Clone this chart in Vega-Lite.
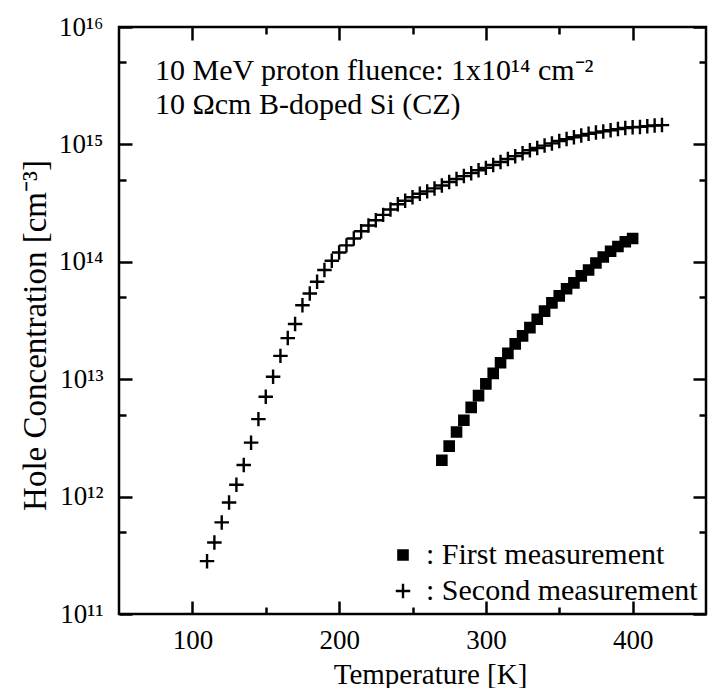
{
  "$schema": "https://vega.github.io/schema/vega-lite/v6.json",
  "width": 587,
  "height": 587,
  "autosize": {"type": "none"},
  "padding": {"left": 119, "top": 27, "right": 2, "bottom": 74},
  "background": "white",
  "config": {
    "view": {"stroke": "black", "strokeWidth": 2.5},
    "axis": {
      "domain": false, "grid": false, "tickWidth": 2.5,
      "labelFont": "Liberation Serif", "labelFontSize": 27, "labelColor": "black",
      "titleFont": "Liberation Serif", "titleColor": "black", "titleFontWeight": "normal"
    },
    "legend": {"labelFont": "Liberation Serif", "labelColor": "black"}
  },
  "datasets": {
    "first": [
      {"T": 270, "p": 2.04e12, "series": "First measurement"},
      {"T": 275, "p": 2.69e12, "series": "First measurement"},
      {"T": 280, "p": 3.55e12, "series": "First measurement"},
      {"T": 285, "p": 4.47e12, "series": "First measurement"},
      {"T": 290, "p": 5.75e12, "series": "First measurement"},
      {"T": 295, "p": 7.24e12, "series": "First measurement"},
      {"T": 300, "p": 9.12e12, "series": "First measurement"},
      {"T": 305, "p": 1.12e13, "series": "First measurement"},
      {"T": 310, "p": 1.38e13, "series": "First measurement"},
      {"T": 315, "p": 1.66e13, "series": "First measurement"},
      {"T": 320, "p": 2.0e13, "series": "First measurement"},
      {"T": 325, "p": 2.34e13, "series": "First measurement"},
      {"T": 330, "p": 2.75e13, "series": "First measurement"},
      {"T": 335, "p": 3.24e13, "series": "First measurement"},
      {"T": 340, "p": 3.8e13, "series": "First measurement"},
      {"T": 345, "p": 4.47e13, "series": "First measurement"},
      {"T": 350, "p": 5.13e13, "series": "First measurement"},
      {"T": 355, "p": 5.89e13, "series": "First measurement"},
      {"T": 360, "p": 6.61e13, "series": "First measurement"},
      {"T": 365, "p": 7.59e13, "series": "First measurement"},
      {"T": 370, "p": 8.51e13, "series": "First measurement"},
      {"T": 375, "p": 9.77e13, "series": "First measurement"},
      {"T": 380, "p": 1.1e14, "series": "First measurement"},
      {"T": 385, "p": 1.23e14, "series": "First measurement"},
      {"T": 390, "p": 1.35e14, "series": "First measurement"},
      {"T": 395, "p": 1.48e14, "series": "First measurement"},
      {"T": 400, "p": 1.58e14, "series": "First measurement"}
    ],
    "second": [
      {"T": 110, "p": 2.82e11, "series": "Second measurement"},
      {"T": 115, "p": 4.07e11, "series": "Second measurement"},
      {"T": 120, "p": 6.03e11, "series": "Second measurement"},
      {"T": 125, "p": 8.91e11, "series": "Second measurement"},
      {"T": 130, "p": 1.26e12, "series": "Second measurement"},
      {"T": 135, "p": 1.86e12, "series": "Second measurement"},
      {"T": 140, "p": 2.88e12, "series": "Second measurement"},
      {"T": 145, "p": 4.57e12, "series": "Second measurement"},
      {"T": 150, "p": 7.08e12, "series": "Second measurement"},
      {"T": 155, "p": 1.05e13, "series": "Second measurement"},
      {"T": 160, "p": 1.58e13, "series": "Second measurement"},
      {"T": 165, "p": 2.24e13, "series": "Second measurement"},
      {"T": 170, "p": 2.95e13, "series": "Second measurement"},
      {"T": 175, "p": 4.27e13, "series": "Second measurement"},
      {"T": 180, "p": 5.37e13, "series": "Second measurement"},
      {"T": 185, "p": 6.76e13, "series": "Second measurement"},
      {"T": 190, "p": 8.51e13, "series": "Second measurement"},
      {"T": 195, "p": 1.02e14, "series": "Second measurement"},
      {"T": 200, "p": 1.2e14, "series": "Second measurement"},
      {"T": 205, "p": 1.38e14, "series": "Second measurement"},
      {"T": 210, "p": 1.58e14, "series": "Second measurement"},
      {"T": 215, "p": 1.82e14, "series": "Second measurement"},
      {"T": 220, "p": 2.04e14, "series": "Second measurement"},
      {"T": 225, "p": 2.26e14, "series": "Second measurement"},
      {"T": 230, "p": 2.51e14, "series": "Second measurement"},
      {"T": 235, "p": 2.79e14, "series": "Second measurement"},
      {"T": 240, "p": 3.09e14, "series": "Second measurement"},
      {"T": 245, "p": 3.31e14, "series": "Second measurement"},
      {"T": 250, "p": 3.55e14, "series": "Second measurement"},
      {"T": 255, "p": 3.8e14, "series": "Second measurement"},
      {"T": 260, "p": 3.98e14, "series": "Second measurement"},
      {"T": 265, "p": 4.22e14, "series": "Second measurement"},
      {"T": 270, "p": 4.47e14, "series": "Second measurement"},
      {"T": 275, "p": 4.79e14, "series": "Second measurement"},
      {"T": 280, "p": 5.07e14, "series": "Second measurement"},
      {"T": 285, "p": 5.37e14, "series": "Second measurement"},
      {"T": 290, "p": 5.69e14, "series": "Second measurement"},
      {"T": 295, "p": 6.03e14, "series": "Second measurement"},
      {"T": 300, "p": 6.31e14, "series": "Second measurement"},
      {"T": 305, "p": 6.68e14, "series": "Second measurement"},
      {"T": 310, "p": 7.08e14, "series": "Second measurement"},
      {"T": 315, "p": 7.5e14, "series": "Second measurement"},
      {"T": 320, "p": 7.94e14, "series": "Second measurement"},
      {"T": 325, "p": 8.41e14, "series": "Second measurement"},
      {"T": 330, "p": 8.91e14, "series": "Second measurement"},
      {"T": 335, "p": 9.33e14, "series": "Second measurement"},
      {"T": 340, "p": 9.77e14, "series": "Second measurement"},
      {"T": 345, "p": 1.02e15, "series": "Second measurement"},
      {"T": 350, "p": 1.07e15, "series": "Second measurement"},
      {"T": 355, "p": 1.11e15, "series": "Second measurement"},
      {"T": 360, "p": 1.15e15, "series": "Second measurement"},
      {"T": 365, "p": 1.19e15, "series": "Second measurement"},
      {"T": 370, "p": 1.23e15, "series": "Second measurement"},
      {"T": 375, "p": 1.26e15, "series": "Second measurement"},
      {"T": 380, "p": 1.29e15, "series": "Second measurement"},
      {"T": 385, "p": 1.32e15, "series": "Second measurement"},
      {"T": 390, "p": 1.35e15, "series": "Second measurement"},
      {"T": 395, "p": 1.38e15, "series": "Second measurement"},
      {"T": 400, "p": 1.4e15, "series": "Second measurement"},
      {"T": 405, "p": 1.41e15, "series": "Second measurement"},
      {"T": 410, "p": 1.43e15, "series": "Second measurement"},
      {"T": 415, "p": 1.45e15, "series": "Second measurement"},
      {"T": 420, "p": 1.46e15, "series": "Second measurement"}
    ]
  },
  "resolve": {"axis": {"x": "independent", "y": "independent"}},
  "layer": [
    {
      "data": {"name": "first"},
      "mark": {"type": "point", "filled": true, "fill": "black", "stroke": "black", "strokeWidth": 2.4, "opacity": 1},
      "encoding": {
        "x": {
          "field": "T", "type": "quantitative",
          "scale": {"domain": [50, 450], "nice": false, "zero": false},
          "axis": {
            "orient": "bottom", "title": "Temperature [K]", "titleFontSize": 29,
            "values": [100, 200, 300, 400], "ticks": true, "tickSize": 13, "tickColor": "transparent",
            "labelPadding": 0, "titleX": 311, "titleY": 69, "titleBaseline": "alphabetic", "titleAlign": "center"
          }
        },
        "y": {
          "field": "p", "type": "quantitative",
          "scale": {"type": "log", "domain": [1e11, 1e16], "nice": false},
          "axis": {
            "orient": "left", "title": "Hole Concentration [cm⁻³]", "titleFontSize": 33,
            "values": [1e11, 1e12, 1e13, 1e14, 1e15, 1e16], "ticks": true, "tickSize": 13, "tickColor": "transparent",
            "labelExpr": "'10' + ['¹¹','¹²','¹³','¹⁴','¹⁵','¹⁶'][round(log(datum.value)/LN10) - 11]",
            "labelPadding": 3, "titleX": -74, "titleY": 308, "titleAngle": 270, "titleBaseline": "alphabetic", "titleAlign": "center"
          }
        },
        "shape": {
          "field": "series", "type": "nominal",
          "scale": {"domain": ["First measurement", "Second measurement"], "range": ["square", "M-1,0L1,0M0,-1L0,1"]},
          "legend": {
            "orient": "bottom-right", "title": null, "offset": 8, "padding": 0,
            "labelExpr": "': ' + datum.label", "labelFontSize": 30, "labelOffset": 8, "labelLimit": 500,
            "rowPadding": 6, "symbolStrokeWidth": 2.4, "symbolFillColor": "black", "symbolStrokeColor": "black", "symbolOpacity": 1
          }
        },
        "size": {
          "field": "series", "type": "nominal",
          "scale": {"domain": ["First measurement", "Second measurement"], "range": [85, 210]}
        }
      }
    },
    {
      "data": {"name": "second"},
      "mark": {"type": "point", "shape": "M-1,0L1,0M0,-1L0,1", "size": 210, "filled": true, "fill": "black", "stroke": "black", "strokeWidth": 2.4, "opacity": 1},
      "encoding": {
        "x": {"field": "T", "type": "quantitative", "axis": {
          "orient": "top", "offset": -587, "title": null, "labels": false,
          "values": [100, 200, 300, 400], "tickSize": 13, "tickColor": "#000000"
        }},
        "y": {"field": "p", "type": "quantitative", "axis": {
          "orient": "right", "offset": -587, "title": null, "labels": false,
          "values": [1e11, 1e12, 1e13, 1e14, 1e15, 1e16], "tickSize": 13, "tickColor": "#000000"
        }}
      }
    },
    {
      "data": {"values": [{}]},
      "mark": {"type": "text", "text": "10 MeV proton fluence: 1x10¹⁴ cm⁻²", "align": "left", "baseline": "alphabetic", "font": "Liberation Serif", "fontSize": 30, "color": "black"},
      "encoding": {
        "x": {"datum": 74.5, "type": "quantitative", "axis": {
          "orient": "bottom", "offset": -587, "title": null, "labels": false,
          "values": [100, 200, 300, 400], "tickSize": 13, "tickColor": "#000000"
        }},
        "y": {"datum": 3.57e15, "type": "quantitative", "axis": {
          "orient": "left", "offset": -587, "title": null, "labels": false,
          "values": [1e11, 1e12, 1e13, 1e14, 1e15, 1e16], "tickSize": 13, "tickColor": "#000000"
        }}
      }
    },
    {
      "data": {"values": [{}]},
      "mark": {"type": "text", "text": "10 Ωcm B-doped Si (CZ)", "align": "left", "baseline": "alphabetic", "font": "Liberation Serif", "fontSize": 30, "color": "black"},
      "encoding": {
        "x": {"datum": 74.5, "type": "quantitative", "axis": {
          "orient": "top", "offset": -587, "title": null, "labels": false,
          "values": [150, 250, 350], "tickSize": 7, "tickColor": "#000000"
        }},
        "y": {"datum": 1.8e15, "type": "quantitative", "axis": {
          "orient": "right", "offset": -587, "title": null, "labels": false,
          "values": [5e11, 5e12, 5e13, 5e14, 5e15], "tickSize": 7, "tickColor": "#000000"
        }}
      }
    },
    {
      "data": {"values": [{}]},
      "mark": {"type": "text", "text": ""},
      "encoding": {
        "x": {"datum": 74.5, "type": "quantitative", "axis": {
          "orient": "bottom", "offset": -587, "title": null, "labels": false,
          "values": [150, 250, 350], "tickSize": 7, "tickColor": "#000000"
        }},
        "y": {"datum": 1.8e15, "type": "quantitative", "axis": {
          "orient": "left", "offset": -587, "title": null, "labels": false,
          "values": [5e11, 5e12, 5e13, 5e14, 5e15], "tickSize": 7, "tickColor": "#000000"
        }}
      }
    }
  ]
}
